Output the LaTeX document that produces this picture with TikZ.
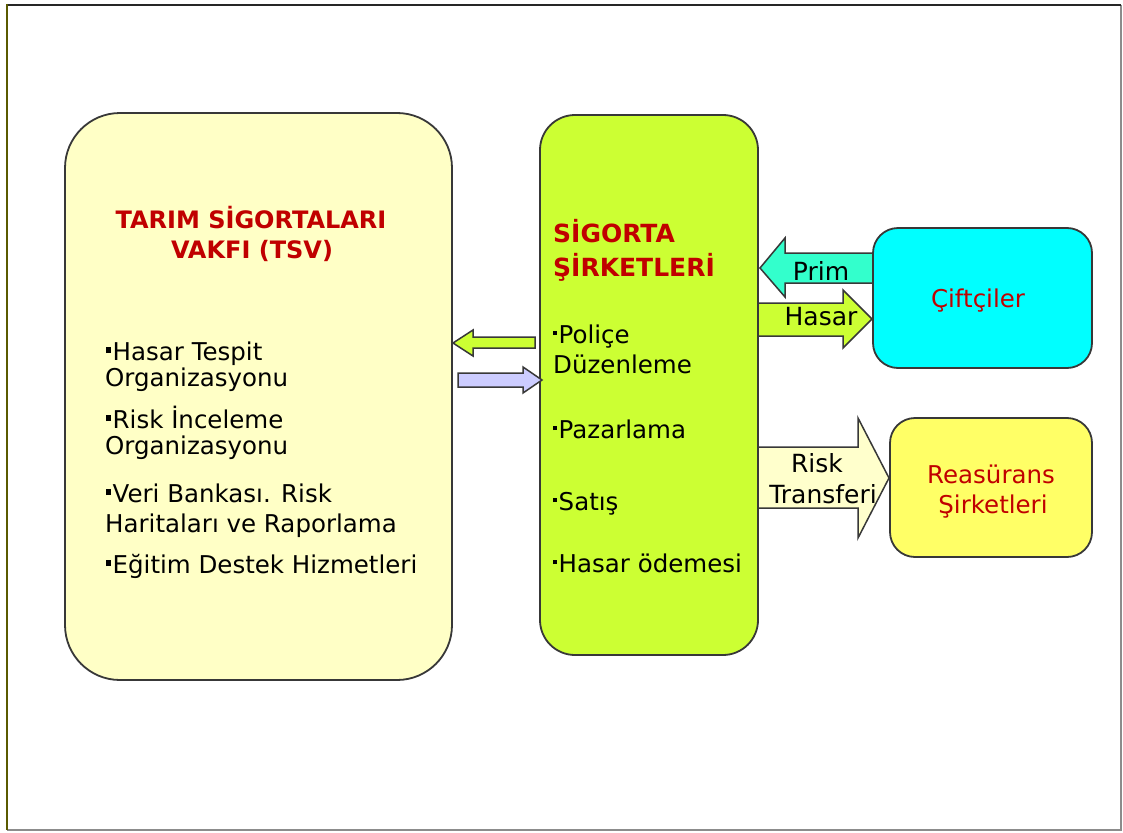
\documentclass[tikz,border=0pt]{standalone}
\usepackage{fontspec}
\setmainfont{DejaVu Sans}
\definecolor{tsvfill}{HTML}{FFFFC6}
\definecolor{sirfill}{HTML}{CCFF33}
\definecolor{ciftfill}{HTML}{00FFFF}
\definecolor{reasfill}{HTML}{FFFF66}
\definecolor{primfill}{HTML}{33FFCC}
\definecolor{riskfill}{HTML}{FFFFCC}
\definecolor{blufill}{HTML}{CCCCFF}
\definecolor{titred}{HTML}{C00000}
\definecolor{edge}{HTML}{383838}
\definecolor{olivedge}{HTML}{5A5A00}
\tikzset{
  box/.style={draw=edge, line width=1.8pt, inner sep=0pt},
  blk/.style={draw=edge, line width=1.5pt, line join=miter},
  title/.style={inner sep=0pt, text=titred, font=\fontsize{24}{27}\selectfont\bfseries},
  gtitle/.style={inner sep=0pt, text=titred, font=\fontsize{25}{28}\selectfont\bfseries},
  body/.style={inner sep=0pt, text=black, font=\fontsize{24.5}{27}\selectfont},
  gbody/.style={inner sep=0pt, text=black, font=\fontsize{24.5}{27}\selectfont},
  lab/.style={inner sep=0pt, text=black, font=\fontsize{25}{28}\selectfont},
  redtxt/.style={inner sep=0pt, text=titred, font=\fontsize{24.5}{27}\selectfont},
}
\newcommand{\sqb}{\raisebox{7pt}{\rule{5pt}{6pt}}\hspace{1.5pt}}
\newcommand{\dtb}{\raisebox{8pt}{\rule{4pt}{4.5pt}}\hspace{1.5pt}}
\begin{document}
\begin{tikzpicture}[x=1pt,y=-1pt]
\useasboundingbox (0,0) rectangle (1123,832);
\fill[white] (0,0) rectangle (1123,832);
% frame
\draw[line width=1.2pt, black!45] (1121,5) -- (1121,830) -- (7,830);
\draw[line width=2pt, black!85] (6,5) -- (1121,5);
\draw[line width=2.2pt, olivedge] (7,4) -- (7,830);

% main boxes
\node[box, fill=tsvfill, minimum width=387pt, minimum height=567pt, rounded corners=55pt] (tsv) at (258.5,396.5) {};
\node[box, fill=sirfill, minimum width=218pt, minimum height=540pt, rounded corners=35pt] (sir) at (649,385) {};

% arrows between TSV and companies
\draw[blk, fill=sirfill] (535,337) -- (473,337) -- (473,330) -- (453,343) -- (473,356) -- (473,348) -- (535,348) -- cycle;
\draw[blk, fill=blufill] (458,373) -- (523,373) -- (523,367) -- (542,380) -- (523,393) -- (523,387) -- (458,387) -- cycle;

% Prim / Hasar / Risk arrows
\draw[blk, fill=primfill] (878,253) -- (785,253) -- (785,238) -- (760,268) -- (785,297) -- (785,283) -- (878,283) -- cycle;
\draw[blk, fill=sirfill] (758,303) -- (843,303) -- (843,290) -- (872,319) -- (843,348) -- (843,336) -- (758,336) -- cycle;
\draw[blk, fill=riskfill] (758,447) -- (858,447) -- (858,418) -- (889,478) -- (858,538) -- (858,508) -- (758,508) -- cycle;

% right boxes
\node[box, fill=ciftfill, minimum width=219pt, minimum height=140pt, rounded corners=25pt] (cift) at (982.5,298) {};
\node[box, fill=reasfill, minimum width=202pt, minimum height=139pt, rounded corners=25pt] (reas) at (991,487.5) {};

% TSV texts
\node[title, anchor=base] (t1) at (251,228) {TARIM SİGORTALARI};
\node[title, anchor=base] (t2) at (252,258) {VAKFI (TSV)};
\node[body, anchor=base west] (b1) at (106,360) {\sqb Hasar Tespit};
\node[body, anchor=base west] (b1b) at (105,386) {Organizasyonu};
\node[body, anchor=base west] (b2) at (106,428) {\sqb Risk İnceleme};
\node[body, anchor=base west] (b2b) at (105,454) {Organizasyonu};
\node[body, anchor=base west] (b3) at (106,502) {\sqb Veri Bankası. Risk};
\node[body, anchor=base west] (b3b) at (105,532) {Haritaları ve Raporlama};
\node[body, anchor=base west] (b4) at (106,573) {\sqb Eğitim Destek Hizmetleri};

% company texts
\node[gtitle, anchor=base west] (s1) at (553,242) {SİGORTA};
\node[gtitle, anchor=base west] (s2) at (553,276) {ŞİRKETLERİ};
\node[gbody, anchor=base west] (g1) at (553,343) {\dtb Poliçe};
\node[gbody, anchor=base west] (g1b) at (553,373) {Düzenleme};
\node[gbody, anchor=base west] (g2) at (553,438) {\dtb Pazarlama};
\node[gbody, anchor=base west] (g3) at (553,510) {\dtb Satış};
\node[gbody, anchor=base west] (g4) at (553,572) {\dtb Hasar ödemesi};

% arrow labels
\node[lab, anchor=base] (lp) at (821,280) {Prim};
\node[lab, anchor=base] (lh) at (821,325) {Hasar};
\node[lab, anchor=base] (lr1) at (817,472) {Risk};
\node[lab, anchor=base] (lr2) at (823,503) {Transferi};

% right texts
\node[redtxt, anchor=base] (c1) at (978,307) {Çiftçiler};
\node[redtxt, anchor=base] (r1) at (991,483) {Reasürans};
\node[redtxt, anchor=base] (r2) at (993,513) {Şirketleri};
\end{tikzpicture}
\end{document}
